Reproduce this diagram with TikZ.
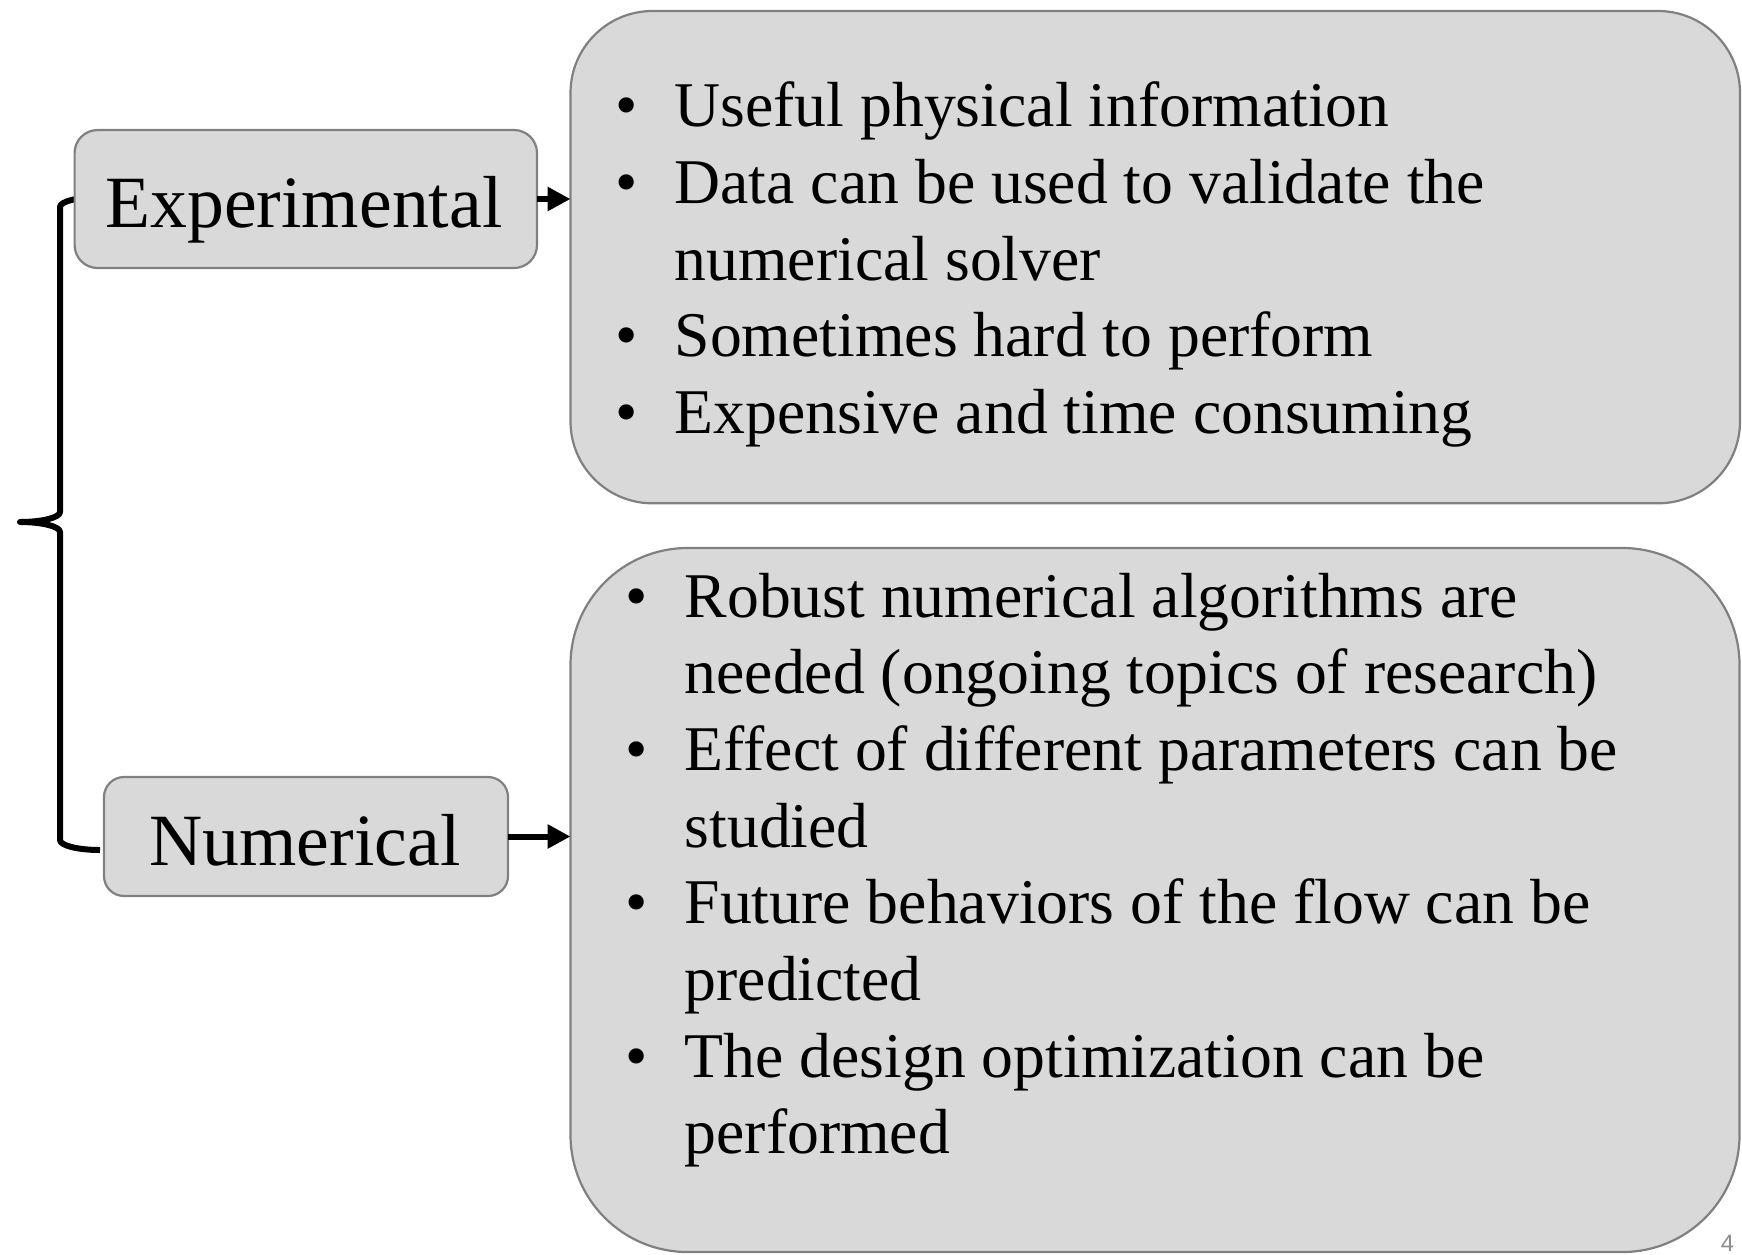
\documentclass[tikz,border=0pt]{standalone}
\usepackage{fontspec}
\setmainfont{Liberation Serif}
\newfontfamily\pgnumfont{Liberation Sans}
\usetikzlibrary{arrows.meta}
\definecolor{boxfill}{HTML}{D9D9D9}
\definecolor{boxline}{HTML}{808080}
\definecolor{pagenum}{HTML}{8C8C8C}
\newcommand\bulletrow[1]{\makebox[0pt]{\textbullet}\hspace{48.5pt}\begin{tabular}[t]{@{}l@{}}#1\end{tabular}}
\tikzset{
  panel/.style={draw=boxline, fill=boxfill, line width=2.2pt, inner sep=0pt, outer sep=0pt},
  labeltext/.style={inner sep=0pt, anchor=base, font=\fontsize{73.7}{88}\selectfont},
  itemtext/.style={inner sep=0pt, anchor=base west, font=\fontsize{63.7}{76.7}\selectfont},
  link/.style={line width=6pt, -{Triangle[length=23pt,width=23pt]}},
  bracket/.style={line width=6pt, line join=round},
}
\begin{document}
\begin{tikzpicture}[x=1pt,y=-1pt]
\useasboundingbox (0,0) rectangle (1742,1254);
% brace (drawn first, partly covered by the Experimental box)
\draw[bracket] (100,197) .. controls (77.9,197) and (60,201.5) .. (60,207)
  -- (60,512) .. controls (60,517.5) and (42.1,522) .. (20,522)
  .. controls (42.1,522) and (60,526.5) .. (60,532)
  -- (60,840) .. controls (60,845.5) and (77.9,850) .. (100,850);
% boxes
\node[panel, rounded corners=82pt, minimum width=1169.5pt, minimum height=492.3pt] (top) at (1155.25,257.15) {};
\node[panel, rounded corners=117pt, minimum width=1169pt, minimum height=704pt] (bot) at (1155,900) {};
\node[panel, rounded corners=23pt, minimum width=462.4pt, minimum height=138pt] (exp) at (305.8,199) {};
\node[panel, rounded corners=20pt, minimum width=404pt, minimum height=119pt] (num) at (306,836.5) {};
% labels
\node[labeltext] (explabel) at (304,227.3) {Experimental};
\node[labeltext] (numlabel) at (305,865) {Numerical};
% arrows
\draw[link] (exp.east) -- (exp.east -| top.west);
\draw[link] (num.east) -- (num.east -| bot.west);
% top list
\node[itemtext] (t1) at (626,126.7) {\bulletrow{Useful physical information}};
\node[itemtext] (t2) at (626,203.4) {\bulletrow{Data can be used to validate the\\numerical solver}};
\node[itemtext] (t3) at (626,356.8) {\bulletrow{Sometimes hard to perform}};
\node[itemtext] (t4) at (626,433.5) {\bulletrow{Expensive and time consuming}};
% bottom list
\node[itemtext] (b1) at (636,617) {\bulletrow{Robust numerical algorithms are\\needed (ongoing topics of research)}};
\node[itemtext] (b2) at (636,770.4) {\bulletrow{Effect of different parameters can be\\studied}};
\node[itemtext] (b3) at (636,923.8) {\bulletrow{Future behaviors of the flow can be\\predicted}};
\node[itemtext] (b4) at (636,1077.2) {\bulletrow{The design optimization can be\\performed}};
% page number
\node[inner sep=0pt, anchor=base, text=pagenum, font=\pgnumfont\fontsize{23.7}{28}\selectfont] (pg) at (1727.5,1251.5) {4};
\end{tikzpicture}
\end{document}
